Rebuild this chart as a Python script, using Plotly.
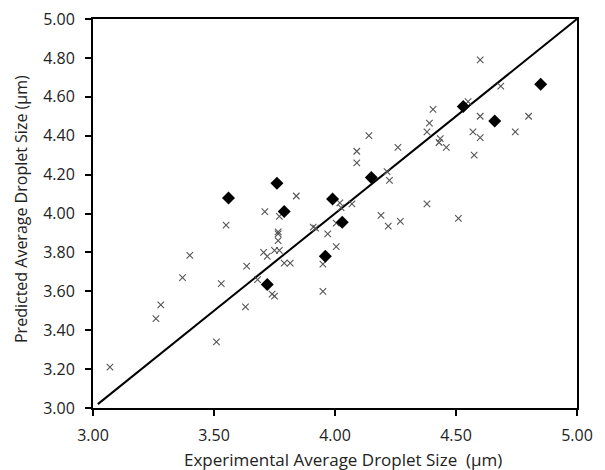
import plotly.graph_objects as go

# Predicted vs experimental (crosses: training set)
cross_x = [3.07, 3.26, 3.28, 3.37, 3.40, 3.51, 3.53, 3.55, 3.635, 3.63,
           3.68, 3.71, 3.705, 3.72, 3.74, 3.75, 3.77, 3.765, 3.765, 3.765,
           3.75, 3.77, 3.79, 3.815, 3.84, 3.91, 3.92, 3.97, 3.95, 3.95,
           4.005, 4.005, 4.02, 4.07, 4.025, 4.09, 4.09, 4.14, 4.26, 4.215,
           4.225, 4.19, 4.22, 4.27, 4.38, 4.51, 4.405, 4.39, 4.38, 4.435,
           4.43, 4.46, 4.55, 4.60, 4.685, 4.60, 4.57, 4.60, 4.575, 4.745,
           4.80]
cross_y = [3.21, 3.46, 3.53, 3.67, 3.785, 3.34, 3.64, 3.94, 3.73, 3.52,
           3.66, 4.01, 3.80, 3.78, 3.585, 3.575, 3.985, 3.905, 3.895, 3.86,
           3.81, 3.81, 3.745, 3.745, 4.09, 3.93, 3.925, 3.895, 3.74, 3.60,
           3.83, 3.95, 4.055, 4.05, 4.03, 4.32, 4.26, 4.40, 4.34, 4.215,
           4.17, 3.99, 3.935, 3.96, 4.05, 3.975, 4.535, 4.465, 4.42, 4.385,
           4.365, 4.34, 4.575, 4.79, 4.655, 4.50, 4.42, 4.39, 4.30, 4.42,
           4.50]

# Diamonds: validation set
diamond_x = [3.56, 3.76, 3.79, 3.99, 4.15, 4.03, 4.53, 4.66, 4.85, 3.72, 3.96]
diamond_y = [4.08, 4.155, 4.01, 4.075, 4.185, 3.955, 4.55, 4.475, 4.665, 3.635, 3.78]

# y = x reference line
line_x = [3.02, 5.00]
line_y = [3.02, 5.00]

x_ticks = [3.0, 3.5, 4.0, 4.5, 5.0]
y_ticks = [3.0, 3.2, 3.4, 3.6, 3.8, 4.0, 4.2, 4.4, 4.6, 4.8, 5.0]

x_title = "Experimental Average Droplet Size  (µm)"
y_title = "Predicted Average Droplet Size (µm)"

fig = go.Figure()
fig.add_trace(go.Scatter(x=line_x, y=line_y, mode="lines",
                         line=dict(color="black", width=2), showlegend=False))
fig.add_trace(go.Scatter(x=cross_x, y=cross_y, mode="markers",
                         marker=dict(symbol="x-thin", size=6.5,
                                     line=dict(color="#555555", width=1.1)),
                         showlegend=False))
fig.add_trace(go.Scatter(x=diamond_x, y=diamond_y, mode="markers",
                         marker=dict(symbol="diamond", size=10, color="black",
                                     line=dict(width=0)),
                         showlegend=False))

# page body adds an 8px offset, so the figure is sized to fit the window
W, H = 597, 462
L, R, T, B = 85, 28, 11, 62
pw, ph = W - L - R, H - T - B

fig.update_layout(
    width=W, height=H,
    margin=dict(l=L, r=R, t=T, b=B, autoexpand=False),
    paper_bgcolor="white", plot_bgcolor="white",
    font=dict(family="Open Sans", size=16, color="#222222"),
)
fig.update_xaxes(
    range=[3.0, 5.0], tickvals=x_ticks, ticktext=[f"{v:.2f}" for v in x_ticks],
    showgrid=False, zeroline=False, showline=True, linecolor="black",
    linewidth=2, mirror=True, ticks="outside", ticklen=6, tickwidth=2,
    tickcolor="black", tickfont=dict(size=16), ticklabelstandoff=6,
    ticklabeloverflow="allow", automargin=False,
)
fig.update_yaxes(
    range=[3.0, 5.0], tickvals=y_ticks, ticktext=[f"{v:.2f}" for v in y_ticks],
    showgrid=False, zeroline=False, showline=True, linecolor="black",
    linewidth=2, mirror=True, ticks="outside", ticklen=6, tickwidth=2,
    tickcolor="black", tickfont=dict(size=16), ticklabelstandoff=7,
    ticklabeloverflow="allow", automargin=False,
)

fig.add_annotation(text=x_title, xref="paper", yref="paper",
                   x=(335 - L) / pw, y=(H - B - 451) / ph,
                   xanchor="center", yanchor="middle", showarrow=False,
                   font=dict(size=17))
fig.add_annotation(text=y_title, xref="paper", yref="paper",
                   x=(13 - L) / pw, y=(H - B - 201) / ph, textangle=-90,
                   xanchor="center", yanchor="middle", showarrow=False,
                   font=dict(size=16))

fig.write_html("out.html")
